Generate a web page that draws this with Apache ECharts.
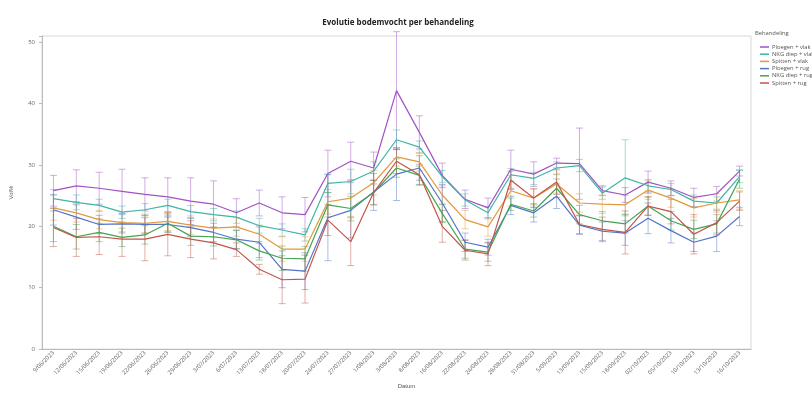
<!DOCTYPE html>
<html><head><meta charset="utf-8">
<script src="https://cdn.jsdelivr.net/npm/echarts@6/dist/echarts.min.js"></script>
<style>html,body{margin:0;padding:0;background:#fff}#c{width:812px;height:394px}</style>
</head><body><div id="c"></div>
<script>
const dates = ['9/06/2023','12/06/2023','15/06/2023','19/06/2023','22/06/2023','26/06/2023','29/06/2023','3/07/2023','6/07/2023','13/07/2023','18/07/2023','20/07/2023','24/07/2023','27/07/2023','1/08/2023','3/08/2023','8/08/2023','16/08/2023','22/08/2023','24/08/2023','28/08/2023','31/08/2023','5/09/2023','13/09/2023','15/09/2023','18/09/2023','02/10/2023','05/10/2023','10/10/2023','13/10/2023','16/10/2023'];
const seriesNames = ['Ploegen + vlak','NKG diep + vlak','Spitten + vlak','Ploegen + rug','NKG diep + rug','Spitten + rug'];
const seriesColors = ['#a052c6','#3fb5a5','#e0993b','#5274c8','#43a452','#c2554a'];

const ploegenVlak = [25.8,26.6,26.2,25.7,25.2,24.8,24.1,23.6,22.2,23.8,22.2,21.9,28.6,30.6,29.5,42.1,35.3,28.3,24.4,23.0,29.3,28.5,30.3,30.2,25.8,25.1,27.2,26.2,24.7,25.3,29.0];
const nkgDiepVlak = [24.5,23.9,23.4,22.3,22.7,23.4,22.4,21.9,21.5,20.1,19.4,18.6,27.0,27.3,29.0,34.1,32.9,28.1,24.3,22.2,28.4,27.8,29.5,29.9,25.4,27.9,26.6,26.0,24.1,23.8,28.1];
const spittenVlak = [23.0,22.2,21.1,20.6,20.5,20.8,20.2,19.7,19.9,18.7,16.3,16.3,24.0,24.6,27.1,31.3,30.5,25.1,21.1,19.9,25.8,24.6,26.9,23.8,23.6,23.5,25.9,24.6,23.0,23.8,24.3];
const ploegenRug = [22.7,21.5,20.3,20.4,20.3,20.3,19.8,19.0,17.9,17.4,13.0,12.7,21.4,22.6,25.6,28.5,29.5,23.8,17.4,16.6,23.4,22.2,24.9,20.2,19.2,18.9,21.3,19.3,17.4,18.4,21.6];
const nkgDiepRug = [20.0,18.3,19.0,18.2,18.6,20.5,18.4,18.3,17.8,16.0,14.8,14.7,23.5,22.9,25.5,29.5,28.3,22.1,16.3,15.8,23.6,22.5,26.2,21.9,20.9,20.4,23.3,20.9,19.5,20.4,27.7];
const spittenRug = [19.8,18.2,18.3,17.9,17.9,18.7,17.9,17.3,16.2,13.0,11.3,11.4,21.0,17.5,25.5,30.6,28.4,20.0,16.1,15.5,27.5,24.6,27.2,20.3,19.5,19.0,23.3,22.4,18.7,20.6,24.1];

const errPloegenVlak = [2.5,2.6,2.6,3.6,2.7,3.1,3.8,3.8,2.3,2.1,2.6,2.8,3.8,3.1,2.6,9.6,2.7,2.0,1.5,1.6,3.1,2.0,0.8,5.8,0.8,1.2,1.8,1.2,1.5,1.2,0.8];
const errNkgDiepVlak = [1.5,1.2,1.0,1.0,1.0,1.0,1.0,1.0,1.0,1.2,1.0,1.0,1.5,2.0,1.5,1.6,1.0,1.0,1.0,1.0,1.0,1.0,1.0,1.0,1.0,6.2,1.0,1.0,1.0,1.0,1.0];
const errSpittenVlak = [2.0,1.5,1.5,1.5,1.5,1.5,1.5,1.5,1.5,1.5,2.0,2.0,2.0,3.0,2.0,1.5,1.5,1.5,1.5,1.5,2.5,1.5,1.5,1.5,1.5,1.5,1.5,1.5,1.5,1.5,1.5];
const errPloegenRug = [2.5,2.0,1.5,1.5,1.5,1.2,1.5,1.5,1.5,2.5,3.0,3.0,7.0,4.5,3.0,4.3,2.0,3.0,1.5,1.3,1.5,1.5,2.0,1.5,1.5,2.0,2.5,2.0,1.5,2.5,1.5];
const errNkgDiepRug = [2.5,2.0,1.5,1.5,1.5,1.5,1.5,1.5,1.5,1.5,2.0,2.0,2.0,2.0,2.0,1.5,1.5,1.5,1.5,1.5,1.0,1.0,1.5,1.5,1.5,1.5,1.5,1.5,1.5,1.5,1.5];
const errSpittenRug = [3.1,3.1,2.9,2.8,3.5,3.5,3.0,2.6,1.1,0.8,3.9,3.9,2.5,3.9,2.0,2.0,1.7,2.6,1.6,1.9,1.5,1.5,2.0,1.5,2.0,3.5,1.5,2.0,3.2,2.0,1.5];

const yTicks = [0,10,20,30,40,50];

const values = [ploegenVlak,nkgDiepVlak,spittenVlak,ploegenRug,nkgDiepRug,spittenRug];
const errors = [errPloegenVlak,errNkgDiepVlak,errSpittenVlak,errPloegenRug,errNkgDiepRug,errSpittenRug];

const chart = echarts.init(document.getElementById('c'), null, {renderer:'canvas'});
const series = [];
values.forEach((vals, si) => {
  const col = seriesColors[si];
  series.push({
    type:'custom', name: seriesNames[si] + ' err', silent:true, z:1,
    data: vals.map((v,i)=>[i, v - errors[si][i], v + errors[si][i]]),
    encode:{x:0, y:[1,2]},
    renderItem:(params, api)=>{
      const x = api.coord([api.value(0), 0])[0];
      const lo = api.coord([api.value(0), api.value(1)])[1];
      const hi = api.coord([api.value(0), api.value(2)])[1];
      const w = 3.5;
      const st = {stroke: col, lineWidth: 0.8, opacity: 0.6};
      return {type:'group', children:[
        {type:'line', shape:{x1:x,y1:lo,x2:x,y2:hi}, style:st},
        {type:'line', shape:{x1:x-w,y1:lo,x2:x+w,y2:lo}, style:st},
        {type:'line', shape:{x1:x-w,y1:hi,x2:x+w,y2:hi}, style:st}
      ]};
    }
  });
});
values.forEach((vals, si) => {
  series.push({
    type:'line', name: seriesNames[si], data: vals, symbol:'none', z:3,
    lineStyle:{width:1.2, color: seriesColors[si]}, itemStyle:{color: seriesColors[si]}
  });
});

chart.setOption({
  animation:false,
  backgroundColor:'#ffffff',
  title:{text:'Evolutie bodemvocht per behandeling', left:393, textAlign:'center', top:14,
    textStyle:{fontSize:8, fontWeight:'bold', color:'#222', fontFamily:'Open Sans'}},
  grid:{left:36, right:61, top:36, bottom:41, show:true, borderColor:'#d8d8d8', borderWidth:1, backgroundColor:'#fff'},
  legend:{data:seriesNames, orient:'vertical', left:755, top:39, icon:'rect', itemWidth:9, itemHeight:1.5, itemGap:1.2,
    textStyle:{fontSize:5.8, color:'#555', fontFamily:'Open Sans', padding:[0,0,0,-2]}},
  graphic:[{type:'text', left:755, top:30, style:{text:'Behandeling', fontSize:5.8, fill:'#555', fontFamily:'Open Sans'}}],
  xAxis:{type:'category', data:dates, boundaryGap:true, name:'Datum', nameLocation:'middle', nameGap:31,
    nameTextStyle:{fontSize:6, color:'#555', padding:[0,0,0,20]},
    axisLine:{lineStyle:{color:'#bbb'}}, axisTick:{show:false},
    axisLabel:{rotate:45, fontSize:5.8, color:'#666', interval:0, margin:3, fontFamily:'Open Sans'}},
  yAxis:{type:'value', min:0, max:51, interval:10, name:'Vol%', nameLocation:'middle', nameGap:28,
    nameTextStyle:{fontSize:6, color:'#555'},
    axisLine:{show:true, lineStyle:{color:'#bbb'}}, axisTick:{show:true, length:3, lineStyle:{color:'#bbb'}},
    splitLine:{show:false},
    axisLabel:{fontSize:6, color:'#666', margin:7, fontFamily:'Open Sans', formatter:v=> yTicks.includes(v)? String(v):''}},
  series: series
});
</script></body></html>
